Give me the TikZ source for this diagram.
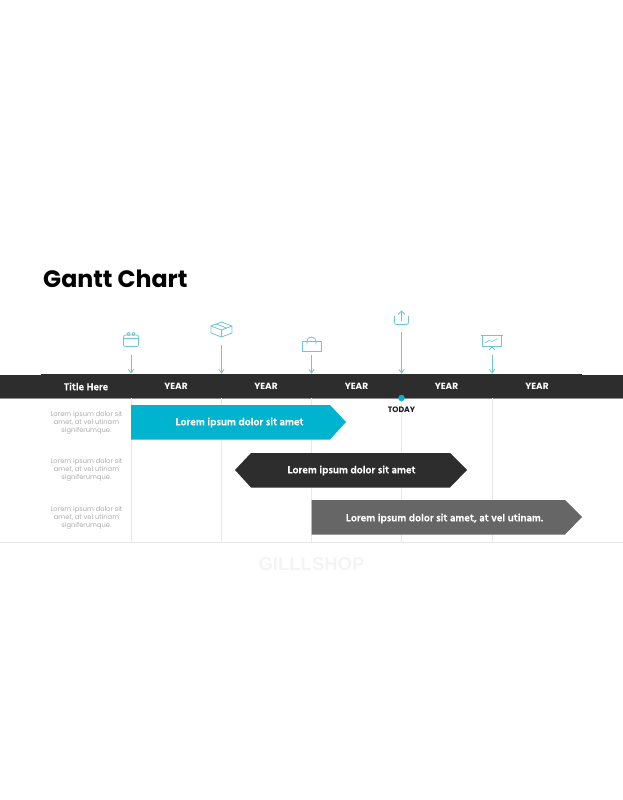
\documentclass[tikz,border=0pt]{standalone}
\usepackage{fontspec}
\setmainfont{Poppins}
\newfontfamily\barfont[BoldFeatures={FakeBold=0.35}]{Hind Siliguri}
\newfontfamily\markfont{Liberation Sans}
\definecolor{barcyan}{HTML}{00B4D0}
\definecolor{bardark}{HTML}{2D2D2D}
\definecolor{bargrey}{HTML}{666666}
\definecolor{ticklight}{HTML}{6CC6D6}
\definecolor{gridgrey}{HTML}{E8E8E8}
\definecolor{notegrey}{HTML}{ABABAB}
\definecolor{markgrey}{HTML}{F4F4F5}
\tikzset{
  iconbox/.style={minimum width=20pt, minimum height=20pt, inner sep=0pt},
  icon/.style={draw=ticklight, line width=0.8pt, line join=round},
  tick/.style={draw=ticklight, line width=0.8pt},
  tip/.style={draw=ticklight, line width=0.8pt, line cap=round},
  gridline/.style={draw=gridgrey, line width=0.7pt},
  yearlabel/.style={text=white, font=\fontsize{9}{10}\selectfont\bfseries, inner sep=0pt},
  notelabel/.style={text=notegrey, font=\fontsize{6.7}{8}\selectfont, align=center, inner sep=0pt},
  barlabel/.style={text=white, font=\fontsize{10.6}{12}\selectfont\barfont\bfseries, inner sep=0pt}
}

\begin{document}
\begin{tikzpicture}[x=1pt, y=-1pt]
    \useasboundingbox (0,0) rectangle (623,800);

    % Title
    \node[anchor=west, inner sep=0pt, font=\fontsize{23.7}{26}\selectfont\bfseries] (Title) at (43,279) {Gantt Chart};

    % Header band
    \fill[bardark] (41,374) rectangle (582,375);
    \fill[bardark] (0,375) rectangle (623,398);
    \draw[draw=black!45, line width=0.5pt] (0,398.2) -- (623,398.2);

    % Grid lines
    \coordinate (G1) at (131,398);
    \coordinate (G2) at (221.5,398);
    \coordinate (G3) at (311.5,398);
    \coordinate (G4) at (401.5,398);
    \coordinate (G5) at (492,398);
    \coordinate (E0) at (0,542.5);
    \coordinate (E1) at (131,542.5);
    \coordinate (E2) at (221.5,542.5);
    \coordinate (E3) at (311.5,542.5);
    \coordinate (E4) at (401.5,542.5);
    \coordinate (E5) at (492,542.5);
    \coordinate (E6) at (623,542.5);
    \draw[gridline] (G1) -- (E1);
    \draw[gridline] (G2) -- (E2);
    \draw[gridline] (G3) -- (E3);
    \draw[gridline] (G4) -- (E4);
    \draw[gridline] (G5) -- (E5);
    \draw[gridline] (E0) -- (E6);

    % Header labels
    \node[yearlabel, font=\fontsize{10.4}{12}\selectfont\barfont\bfseries] (Head) at (86,386.5) {Title Here};
    \node[yearlabel] (Y1) at (176,386.5) {YEAR};
    \node[yearlabel] (Y2) at (266,386.5) {YEAR};
    \node[yearlabel] (Y3) at (356.5,386.5) {YEAR};
    \node[yearlabel] (Y4) at (446.5,386.5) {YEAR};
    \node[yearlabel] (Y5) at (537,386.5) {YEAR};

    % Today marker
    \node[circle, fill=barcyan, inner sep=0pt, minimum size=6.5pt] (Now) at (401.5,398) {};
    \node[inner sep=0pt, font=\fontsize{7.8}{9}\selectfont\bfseries, text=black!90] (Today) at (401.5,410) {TODAY};

    % Row notes
    \node[notelabel] (N1) at (86.5,422.5) {Lorem ipsum dolor sit\\amet, at vel utinam\\signiferumque.};
    \node[notelabel] (N2) at (86.5,470) {Lorem ipsum dolor sit\\amet, at vel utinam\\signiferumque.};
    \node[notelabel] (N3) at (86.5,517.5) {Lorem ipsum dolor sit\\amet, at vel utinam\\signiferumque.};

    % Bars
    \fill[barcyan] (131,405) -- (330,405) -- (346,422) -- (330,439.5) -- (131,439.5) -- cycle;
    \fill[bardark] (235,470) -- (251,453) -- (450,453) -- (467,470) -- (450,487.5) -- (251,487.5) -- cycle;
    \fill[bargrey] (311.5,500) -- (565,500) -- (582,517) -- (565,534.5) -- (311.5,534.5) -- cycle;
    \node[barlabel] (B1) at (239.5,422.5) {Lorem ipsum dolor sit amet};
    \node[barlabel] (B2) at (351.5,470.5) {Lorem ipsum dolor sit amet};
    \node[barlabel] (B3) at (444.5,518.5) {Lorem ipsum dolor sit amet, at vel utinam.};

    % Watermark
    \node[inner sep=0pt, text=markgrey, font=\fontsize{18.5}{20}\selectfont\markfont\bfseries] (Mark) at (311.5,564.5) {GILLLSHOP};

    % Icon holders and arrow ends
    \node[iconbox] (I1) at (131,345) {};
    \node[iconbox] (I2) at (221.5,335) {};
    \node[iconbox] (I3) at (311.5,345) {};
    \node[iconbox] (I4) at (401.5,322) {};
    \node[iconbox] (I5) at (492,345) {};
    \coordinate (A1) at (131,373);
    \coordinate (A2) at (221.5,373);
    \coordinate (A3) at (311.5,373);
    \coordinate (A4) at (401.5,373);
    \coordinate (A5) at (492,373);

    % Arrows down to the band
    \draw[tick] (I1.south) -- (A1);
    \draw[tick] (I2.south) -- (A2);
    \draw[tick] (I3.south) -- (A3);
    \draw[tick] (I4.south) -- (A4);
    \draw[tick] (I5.south) -- (A5);
    \foreach \a in {A1,A2,A3,A4,A5} {
      \draw[tip, shift={(\a)}] (-2.5,-3.5) -- (0,0) -- (2.5,-3.5);
    }

    % Calendar
    \begin{scope}[shift={(I1.center)}]
      \draw[icon, rounded corners=2pt] (-7.5,-10) rectangle (7.5,1.5);
      \draw[icon] (-7.5,-7) -- (7.5,-7);
      \draw[icon] (-2.5,-11) circle (1.7);
      \draw[icon] (2.5,-11) circle (1.7);
    \end{scope}
    % Box
    \begin{scope}[shift={(I2.center)}]
      \draw[icon] (0,-13) -- (10.5,-9) -- (10.5,-2) -- (0,2) -- (-10.5,-2) -- (-10.5,-9) -- cycle;
      \draw[icon] (-10.5,-9) -- (0,-5) -- (10.5,-9);
      \draw[icon] (0,-5) -- (0,2);
      \draw[icon] (-5,-11) -- (5,-7);
    \end{scope}
    % Bag
    \begin{scope}[shift={(I3.center)}]
      \draw[icon] (-9.5,-4) rectangle (9.5,6);
      \draw[icon] (-4.5,-0.5) -- (-4.5,-4) arc (180:360:4.5 and 4) -- (4.5,-0.5);
    \end{scope}
    % Upload
    \begin{scope}[shift={(I4.center)}]
      \draw[icon, rounded corners=2pt] (-7,-6) -- (-7,2.5) -- (7,2.5) -- (7,-6);
      \draw[icon] (0,-1.5) -- (0,-11);
      \draw[icon] (-3.5,-7.5) -- (0,-11) -- (3.5,-7.5);
    \end{scope}
    % Presentation board
    \begin{scope}[shift={(I5.center)}]
      \draw[icon] (-11.5,-9.5) -- (11,-9.5);
      \draw[icon] (-10,-9.5) rectangle (9.5,1);
      \draw[icon, line width=0.6pt] (-7,-2) -- (-3,-4.5) -- (0,-3.5) -- (6,-6.5);
      \draw[icon] (-3,5) -- (0,2) -- (3,5);
    \end{scope}
\end{tikzpicture}
\end{document}
